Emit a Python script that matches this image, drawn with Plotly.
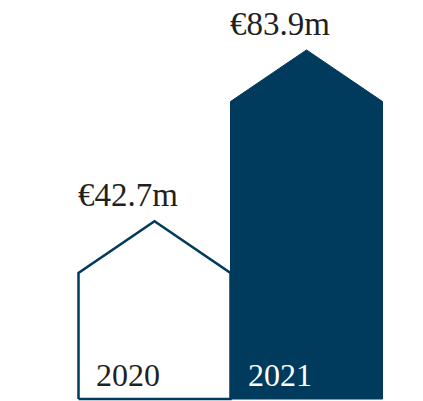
import plotly.graph_objects as go

# Revenue by year, in € millions
years = ["2020", "2021"]
values = [42.7, 83.9]
value_labels = ["€42.7m", "€83.9m"]

NAVY = "#003a5d"
INK = "#231f20"
ROOF = 12.4      # height of the gable, in value units
HALF = 0.5       # half the width of a house, in category units

fig = go.Figure()

for i, (yr, v) in enumerate(zip(years, values)):
    xs = [i - HALF, i - HALF, i, i + HALF, i + HALF, i - HALF]
    ys = [0, v - ROOF, v, v - ROOF, 0, 0]
    filled = i == len(years) - 1
    fig.add_trace(go.Scatter(
        x=xs, y=ys, mode="lines", fill="toself",
        fillcolor=NAVY if filled else "white",
        line=dict(color=NAVY, width=1 if filled else 2.5),
        hoverinfo="skip", showlegend=False,
    ))
    # value above the roof, aligned with the left wall
    fig.add_annotation(
        x=i - HALF, y=v, text=value_labels[i], showarrow=False,
        xanchor="left", yanchor="bottom", xshift=-3, yshift=6,
        font=dict(family="Liberation Serif", size=33, color=INK),
    )
    # year inside the base of the house
    fig.add_annotation(
        x=i - HALF, y=0, text=yr, showarrow=False,
        xanchor="left", yanchor="bottom", xshift=15, yshift=4,
        font=dict(family="Liberation Serif", size=32,
                  color="white" if filled else INK),
    )

fig.update_layout(
    width=423, height=401,
    margin=dict(l=0, r=0, t=0, b=0),
    paper_bgcolor="white", plot_bgcolor="white",
    xaxis=dict(range=[-1.0164, 1.7664], visible=False, fixedrange=True),
    yaxis=dict(range=[-0.48, 95.9], visible=False, fixedrange=True),
)

fig.write_html("out.html")
